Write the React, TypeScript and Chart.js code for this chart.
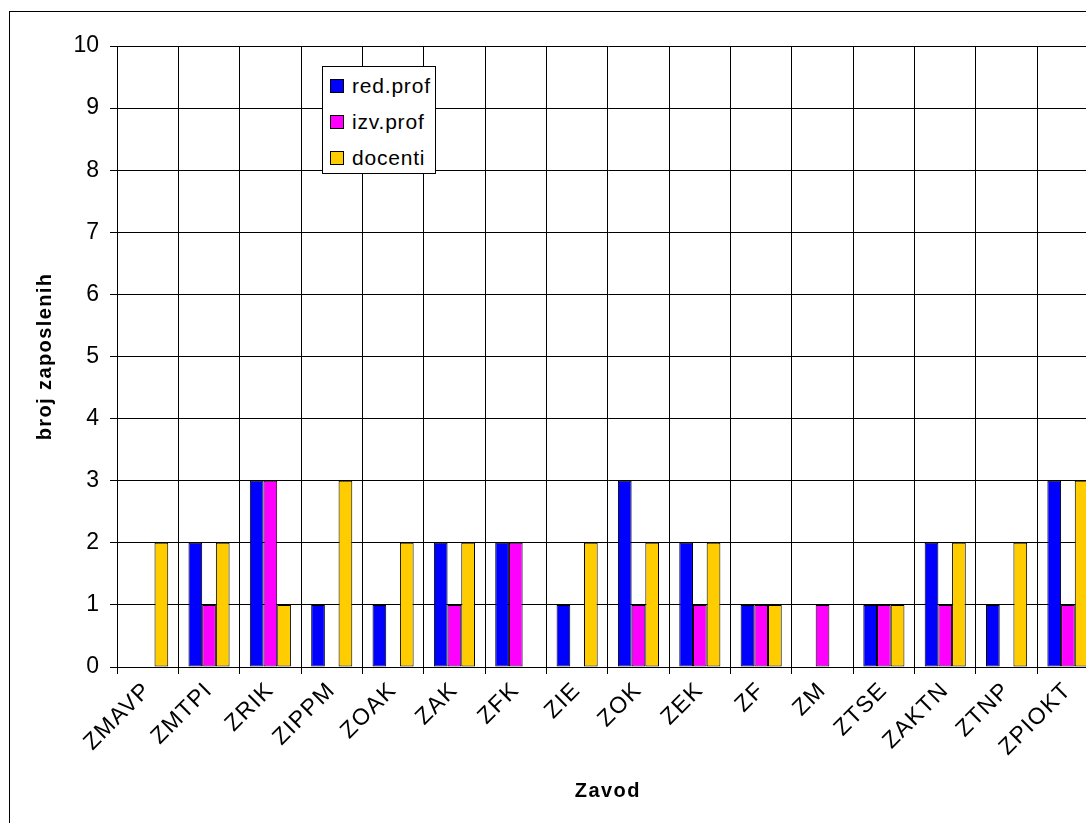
import React, { useEffect, useRef } from 'react';
import { Chart, registerables } from 'chart.js';

Chart.register(...registerables);

const categories = ['ZMAVP', 'ZMTPI', 'ZRIK', 'ZIPPM', 'ZOAK', 'ZAK', 'ZFK', 'ZIE', 'ZOK', 'ZEK', 'ZF', 'ZM', 'ZTSE', 'ZAKTN', 'ZTNP', 'ZPIOKT'];
const redProf = [0, 2, 3, 1, 1, 2, 2, 1, 3, 2, 1, 0, 1, 2, 1, 3];
const izvProf = [0, 1, 3, 0, 0, 1, 2, 0, 1, 1, 1, 1, 1, 1, 0, 1];
const docenti = [2, 2, 1, 3, 2, 2, 0, 2, 2, 2, 1, 0, 1, 2, 2, 3];
const seriesNames = ['red.prof', 'izv.prof', 'docenti'];
const seriesColors = ['#0000FF', '#FF00FF', '#FFCC00'];
const yMin = 0;
const yMax = 10;
const yStep = 1;
const xTitle = 'Zavod';
const yTitle = 'broj zaposlenih';

const FONT = 'Arial, "Liberation Sans", sans-serif';
const SPACING = '1.4px';

const spacingPlugin = {
  id: 'letterSpacing',
  beforeLayout(chart: any) {
    chart.ctx.letterSpacing = SPACING;
  },
  afterLayout(chart: any) {
    const y = chart.scales.y;
    if (y && !y.__wrapped) {
      const orig = y.drawLabels.bind(y);
      y.drawLabels = (area: any) => {
        const ctx = chart.ctx;
        const prev = ctx.letterSpacing;
        ctx.letterSpacing = '0px';
        orig(area);
        ctx.letterSpacing = prev;
      };
      y.__wrapped = true;
    }
  },
  beforeDraw(chart: any) {
    chart.ctx.letterSpacing = SPACING;
  },
};

export default function App() {
  const ref = useRef<HTMLCanvasElement | null>(null);

  useEffect(() => {
    if (!ref.current) return;
    Chart.defaults.font.family = FONT;
    Chart.defaults.color = '#000';
    const values = [redProf, izvProf, docenti];
    const chart = new Chart(ref.current, {
      type: 'bar',
      data: {
        labels: categories,
        datasets: seriesNames.map((name, i) => ({
          label: name,
          data: values[i],
          backgroundColor: seriesColors[i],
          borderColor: '#000',
          borderWidth: 1,
          borderSkipped: false,
          categoryPercentage: 0.67,
          barPercentage: 1,
        })),
      },
      options: {
        animation: false,
        responsive: false,
        devicePixelRatio: 1,
        layout: { padding: { top: 34, right: 11.4, bottom: 0, left: 0 } },
        plugins: {
          legend: { display: false },
          tooltip: { enabled: false },
        },
        scales: {
          x: {
            grid: { color: '#000', lineWidth: 1, tickLength: 7, offset: true },
            border: { color: '#000' },
            ticks: {
              color: '#000',
              font: { size: 23 },
              minRotation: 45,
              maxRotation: 45,
              autoSkip: false,
              padding: 3,
            },
            title: {
              display: true,
              text: xTitle,
              color: '#000',
              font: { size: 20, weight: 'bold' },
              padding: { top: 0, bottom: 29 },
            },
            afterFit: (s: any) => {
              s.height = 165;
            },
          },
          y: {
            min: yMin,
            max: yMax,
            grid: { color: '#000', lineWidth: 1, tickLength: 7 },
            border: { color: '#000' },
            ticks: { stepSize: yStep, color: '#000', font: { size: 23 }, padding: 11 },
            title: {
              display: true,
              text: yTitle,
              color: '#000',
              font: { size: 20, weight: 'bold' },
              padding: { top: 23, bottom: 0 },
            },
            afterFit: (s: any) => {
              s.width = 107;
            },
          },
        },
      } as any,
      plugins: [spacingPlugin],
    });
    return () => chart.destroy();
  }, []);

  return (
    <div style={{ position: 'fixed', left: 0, top: 0, right: 0, bottom: 0, overflow: 'hidden', background: '#fff' }}>
      <div style={{ position: 'absolute', left: 9, top: 11, width: 1100, height: 820, border: '1px solid #000' }}>
        <canvas ref={ref} width={1100} height={820} style={{ display: 'block', width: 1100, height: 820 }} />
      </div>
      <div
        style={{
          position: 'absolute',
          left: 322,
          top: 66,
          width: 112,
          height: 106,
          border: '1px solid #000',
          background: '#fff',
          fontFamily: FONT,
          fontSize: 21,
          letterSpacing: '0.8px',
          color: '#000',
        }}
      >
        {seriesNames.map((name, i) => (
          <div
            key={name}
            style={{
              position: 'absolute',
              left: 7,
              top: 12 + i * 36,
              height: 14,
              display: 'flex',
              alignItems: 'center',
              whiteSpace: 'nowrap',
            }}
          >
            <span
              style={{
                display: 'inline-block',
                width: 12,
                height: 12,
                border: '1px solid #000',
                background: seriesColors[i],
                marginRight: 8,
              }}
            />
            <span style={{ lineHeight: '14px' }}>{name}</span>
          </div>
        ))}
      </div>
    </div>
  );
}
